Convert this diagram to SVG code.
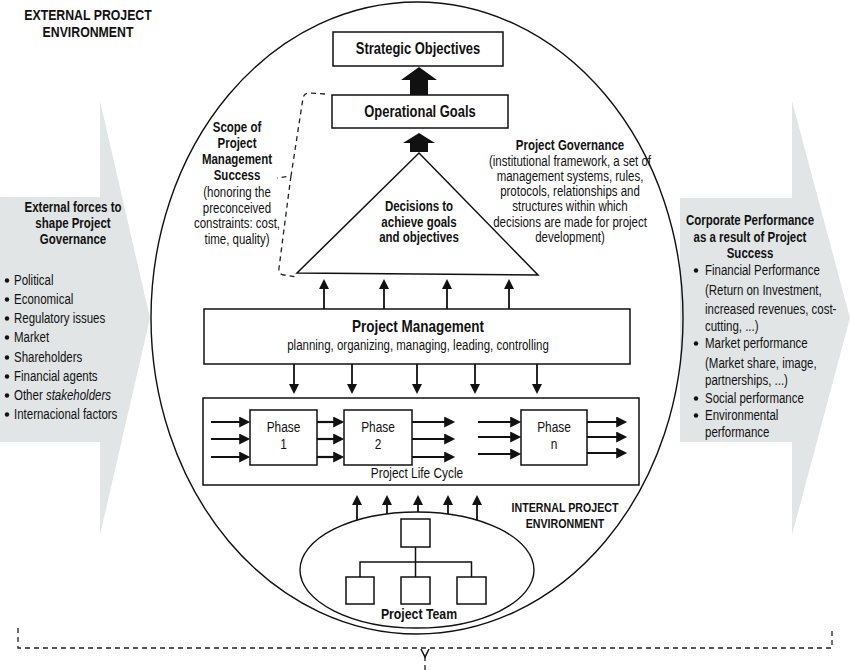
<svg xmlns="http://www.w3.org/2000/svg" width="850" height="670" viewBox="0 0 850 670">
  <style>
    text { font-family: "Liberation Sans", Arial, sans-serif; fill: #111; }
    .b { font-weight: bold; font-size: 14px; }
    .r { font-size: 14px; }
    .c { text-anchor: middle; }
    .title { font-weight: bold; font-size: 15.8px; text-anchor: middle; }
    .box { fill: #fff; stroke: #111; stroke-width: 1.5; }
    .band { fill: #e2e5e5; }
    .thin { stroke: #111; stroke-width: 1.8; fill: none; marker-end: url(#head); }
    .flow { stroke: #111; stroke-width: 2.2; fill: none; marker-end: url(#headL); }
    .dash { stroke: #222; stroke-width: 1.3; fill: none; stroke-dasharray: 5 4; }
    .line { stroke: #111; stroke-width: 1.5; fill: none; }
  </style>
  <defs>
    <marker id="head" viewBox="0 0 10 10" refX="8" refY="5" markerUnits="userSpaceOnUse" markerWidth="10" markerHeight="10" orient="auto">
      <path d="M0,0 L10,5 L0,10 Z" fill="#111"/>
    </marker>
    <marker id="headL" viewBox="0 0 10 10" refX="8" refY="5" markerUnits="userSpaceOnUse" markerWidth="12" markerHeight="11" orient="auto">
      <path d="M0,0 L10,5 L0,10 Z" fill="#111"/>
    </marker>
  </defs>

  <!-- external environment bands; text columns are condensed horizontally -->
  <g id="external-forces">
    <path class="band" d="M0,197 L100,197 L100,101 L150,318 L100,535 L100,442 L0,442 Z"/>
    <g transform="translate(73 0) scale(0.82 1)">
      <text class="b c" x="0" y="212">External forces to</text>
      <text class="b c" x="0" y="228">shape Project</text>
      <text class="b c" x="0" y="244">Governance</text>
    </g>
    <g fill="#111">
      <circle cx="7" cy="280.5" r="2.2"/>
      <circle cx="7" cy="299.5" r="2.2"/>
      <circle cx="7" cy="318.5" r="2.2"/>
      <circle cx="7" cy="337.5" r="2.2"/>
      <circle cx="7" cy="357.5" r="2.2"/>
      <circle cx="7" cy="376.5" r="2.2"/>
      <circle cx="7" cy="395.5" r="2.2"/>
      <circle cx="7" cy="414.5" r="2.2"/>
    </g>
    <g class="r" transform="translate(14 0) scale(0.82 1)">
      <text x="0" y="285">Political</text>
      <text x="0" y="304">Economical</text>
      <text x="0" y="323">Regulatory issues</text>
      <text x="0" y="342">Market</text>
      <text x="0" y="362">Shareholders</text>
      <text x="0" y="381">Financial agents</text>
      <text x="0" y="400">Other <tspan font-style="italic">stakeholders</tspan></text>
      <text x="0" y="419">Internacional factors</text>
    </g>
  </g>

  <g id="corporate-performance">
    <path class="band" d="M680,198 L792,198 L792,101 L850,318 L792,535 L792,442 L680,442 Z"/>
    <g transform="translate(750 0) scale(0.82 1)">
      <text class="b c" x="0" y="225" font-size="14.5">Corporate Performance</text>
      <text class="b c" x="0" y="242" font-size="14.5">as a result of Project</text>
      <text class="b c" x="0" y="258" font-size="14.5">Success</text>
    </g>
    <g fill="#111">
      <circle cx="696" cy="270.5" r="2.2"/>
      <circle cx="696" cy="343.5" r="2.2"/>
      <circle cx="696" cy="398.5" r="2.2"/>
      <circle cx="696" cy="415.5" r="2.2"/>
    </g>
    <g class="r" transform="translate(705 0) scale(0.82 1)">
      <text x="0" y="275">Financial Performance</text>
      <text x="0" y="295">(Return on Investment,</text>
      <text x="0" y="314">increased revenues, cost-</text>
      <text x="0" y="331">cutting, ...)</text>
      <text x="0" y="348">Market performance</text>
      <text x="0" y="368">(Market share, image,</text>
      <text x="0" y="385">partnerships,  ...)</text>
      <text x="0" y="403">Social performance</text>
      <text x="0" y="420">Environmental</text>
      <text x="0" y="437">performance</text>
    </g>
  </g>

  <g id="external-label" transform="translate(88 0) scale(0.82 1)">
    <text x="0" y="20" class="c" font-weight="bold" font-size="15">EXTERNAL PROJECT</text>
    <text x="0" y="37" class="c" font-weight="bold" font-size="15">ENVIRONMENT</text>
  </g>

  <!-- project boundary -->
  <g id="project-boundary">
    <ellipse cx="417" cy="318" rx="266" ry="316" fill="none" stroke="#111" stroke-width="1.4"/>
  </g>

  <g id="strategic-objectives">
    <rect class="box" x="333" y="32" width="170" height="34"/>
    <text class="title" transform="translate(418 54) scale(0.82 1)">Strategic Objectives</text>
  </g>

  <g id="operational-goals">
    <rect class="box" x="332" y="95" width="176" height="33"/>
    <text class="title" transform="translate(420 117) scale(0.82 1)">Operational Goals</text>
  </g>

  <g id="decisions">
    <path d="M419,153 L538,275 L297,273 Z" fill="#fff" stroke="#111" stroke-width="1.5"/>
    <g transform="translate(419 0) scale(0.82 1)">
      <text class="b c" x="0" y="211">Decisions to</text>
      <text class="b c" x="0" y="227">achieve goals</text>
      <text class="b c" x="0" y="242">and objectives</text>
    </g>
  </g>

  <g id="scope" transform="translate(237 0) scale(0.82 1)">
    <text class="b c" x="0" y="132">Scope of</text>
    <text class="b c" x="0" y="148">Project</text>
    <text class="b c" x="0" y="164">Management</text>
    <text class="b c" x="0" y="180">Success</text>
    <text class="r c" x="0" y="197">(honoring the</text>
    <text class="r c" x="0" y="213">preconceived</text>
    <text class="r c" x="0" y="228">constraints: cost,</text>
    <text class="r c" x="0" y="244">time, quality)</text>
  </g>

  <g id="governance" transform="translate(570 0) scale(0.82 1)">
    <text class="b c" x="0" y="150">Project Governance</text>
    <text class="r c" x="0" y="166">(institutional framework, a set of</text>
    <text class="r c" x="0" y="181">management systems, rules,</text>
    <text class="r c" x="0" y="196">protocols, relationships and</text>
    <text class="r c" x="0" y="211">structures within which</text>
    <text class="r c" x="0" y="227">decisions are made for project</text>
    <text class="r c" x="0" y="242">development)</text>
  </g>

  <g id="project-management">
    <rect class="box" x="204" y="309" width="426" height="55"/>
    <g transform="translate(418 0) scale(0.82 1)">
      <text x="0" y="332" class="c" font-weight="bold" font-size="16.5">Project Management</text>
      <text class="r c" x="0" y="350">planning, organizing, managing, leading, controlling</text>
    </g>
  </g>

  <g id="life-cycle">
    <rect class="box" x="203" y="398" width="436" height="87"/>
    <text class="c" font-size="14.5" transform="translate(417 478) scale(0.82 1)">Project Life Cycle</text>
  </g>

  <g id="phase-1">
    <rect class="box" x="250" y="410" width="67" height="55"/>
    <g transform="translate(283.5 0) scale(0.82 1)">
      <text x="0" y="432" class="c" font-size="14.5">Phase</text>
      <text x="0" y="449" class="c" font-size="14.5">1</text>
    </g>
  </g>
  <g id="phase-2">
    <rect class="box" x="344" y="410" width="68" height="55"/>
    <g transform="translate(378 0) scale(0.82 1)">
      <text x="0" y="432" class="c" font-size="14.5">Phase</text>
      <text x="0" y="449" class="c" font-size="14.5">2</text>
    </g>
  </g>
  <g id="phase-n">
    <rect class="box" x="521" y="410" width="66" height="55"/>
    <g transform="translate(554 0) scale(0.82 1)">
      <text x="0" y="432" class="c" font-size="14.5">Phase</text>
      <text x="0" y="449" class="c" font-size="14.5">n</text>
    </g>
  </g>

  <g id="project-team">
    <ellipse cx="417" cy="570" rx="117" ry="58" fill="none" stroke="#111" stroke-width="1.4"/>
    <rect class="box" x="401" y="519" width="29" height="28"/>
    <rect class="box" x="346" y="577" width="28" height="27"/>
    <rect class="box" x="401" y="577" width="29" height="27"/>
    <rect class="box" x="457" y="577" width="29" height="27"/>
    <path class="line" d="M415.5,547 V577 M360,577 V562 H471.5 V577"/>
    <text class="c" font-weight="bold" font-size="15" transform="translate(419 619) scale(0.82 1)">Project Team</text>
  </g>

  <g id="internal-label" transform="translate(565 0) scale(0.82 1)">
    <text x="0" y="512" class="c" font-weight="bold" font-size="13">INTERNAL PROJECT</text>
    <text x="0" y="528" class="c" font-weight="bold" font-size="13">ENVIRONMENT</text>
  </g>

  <!-- connectors -->
  <g id="connectors">
    <!-- hierarchy arrows -->
    <path d="M401,80 L419,67 L437,80 H428 V95 H410 V80 Z" fill="#111"/>
    <path d="M403,143 L419,133 L435,143 H428 V152 H410 V143 Z" fill="#111"/>

    <!-- scope bracket -->
    <path class="dash" d="M325,94 L309,93 Q304,93 303,98 L291,176 L277,178 M291,176 L290,183 L279,268 Q278,274 284,275 L297,277"/>

    <!-- project management to decisions -->
    <line class="thin" x1="324" y1="309" x2="324" y2="281"/>
    <line class="thin" x1="384" y1="309" x2="384" y2="281"/>
    <line class="thin" x1="447" y1="309" x2="447" y2="281"/>
    <line class="thin" x1="509" y1="309" x2="509" y2="281"/>

    <!-- project management to life cycle -->
    <line class="thin" x1="294" y1="364" x2="294" y2="392"/>
    <line class="thin" x1="352" y1="364" x2="352" y2="392"/>
    <line class="thin" x1="417" y1="364" x2="417" y2="392"/>
    <line class="thin" x1="475" y1="364" x2="475" y2="392"/>
    <line class="thin" x1="537" y1="364" x2="537" y2="392"/>

    <!-- phase flows -->
    <line class="flow" x1="211" y1="422" x2="248" y2="422"/>
    <line class="flow" x1="211" y1="439" x2="248" y2="439"/>
    <line class="flow" x1="211" y1="457" x2="248" y2="457"/>
    <line class="flow" x1="317" y1="422" x2="342" y2="422"/>
    <line class="flow" x1="317" y1="439" x2="342" y2="439"/>
    <line class="flow" x1="317" y1="457" x2="342" y2="457"/>
    <line class="flow" x1="412" y1="422" x2="453" y2="422"/>
    <line class="flow" x1="412" y1="439" x2="453" y2="439"/>
    <line class="flow" x1="412" y1="457" x2="453" y2="457"/>
    <line class="flow" x1="478" y1="422" x2="519" y2="422"/>
    <line class="flow" x1="478" y1="437" x2="519" y2="437"/>
    <line class="flow" x1="478" y1="454" x2="519" y2="454"/>
    <line class="flow" x1="587" y1="422" x2="625" y2="422"/>
    <line class="flow" x1="587" y1="437" x2="625" y2="437"/>
    <line class="flow" x1="587" y1="453" x2="625" y2="453"/>

    <!-- project team to life cycle -->
    <line class="thin" x1="357" y1="520" x2="357" y2="497"/>
    <line class="thin" x1="387" y1="514" x2="387" y2="497"/>
    <line class="thin" x1="418" y1="512" x2="418" y2="497"/>
    <line class="thin" x1="448" y1="514" x2="448" y2="497"/>
    <line class="thin" x1="477" y1="520" x2="477" y2="497"/>

    <!-- environment brace -->
    <path class="dash" d="M18,628 V648 H832 V628 M425,656 V670"/>
    <path class="line" stroke-width="1.2" d="M421,649 L425,657 L429,649"/>
  </g>
</svg>
